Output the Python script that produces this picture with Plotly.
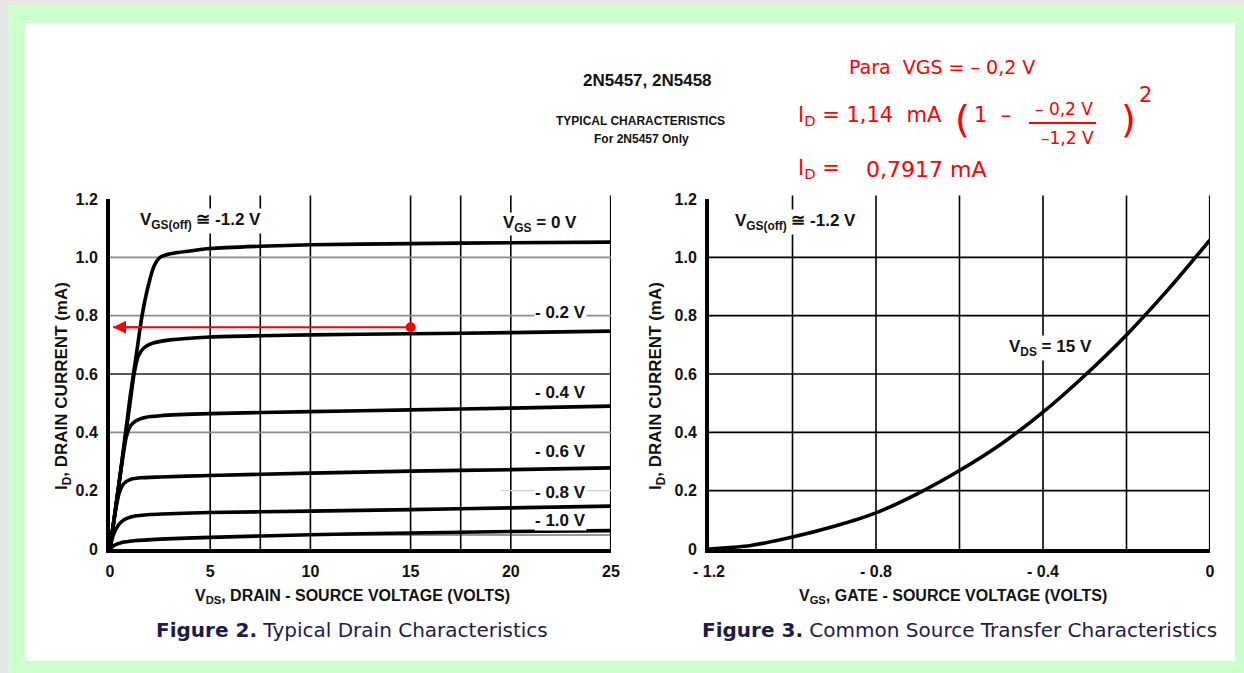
import plotly.graph_objects as go

W, H = 1244, 673

# ---------------- data ----------------
# Figure 2: drain characteristics  (V_DS in volts, I_D in mA)
vds_0 = [0, 0.5, 1.0, 1.3, 1.6, 1.9, 2.2, 2.5, 3.0, 4.0, 5.0, 7.5, 10, 15, 20, 25]
id_0 = [0, 0.25, 0.52, 0.66, 0.80, 0.90, 0.97, 1.00, 1.012, 1.022, 1.03, 1.038, 1.043, 1.047, 1.05, 1.052]

vds_02 = [0, 0.5, 1.0, 1.2, 1.4, 1.7, 2.2, 3.0, 5.0, 7.5, 10, 15, 20, 25]
id_02 = [0, 0.25, 0.50, 0.60, 0.66, 0.69, 0.707, 0.717, 0.727, 0.731, 0.734, 0.738, 0.742, 0.747]

vds_04 = [0, 0.4, 0.8, 1.0, 1.3, 1.8, 2.5, 5.0, 10, 15, 20, 25]
id_04 = [0, 0.20, 0.38, 0.42, 0.44, 0.452, 0.457, 0.464, 0.471, 0.477, 0.483, 0.49]

vds_06 = [0, 0.2, 0.45, 0.7, 1.0, 1.5, 2.5, 5.0, 10, 15, 20, 25]
id_06 = [0, 0.10, 0.19, 0.225, 0.238, 0.244, 0.247, 0.252, 0.26, 0.267, 0.272, 0.278]

vds_08 = [0, 0.15, 0.4, 0.7, 1.2, 2.0, 3.0, 5.0, 10, 15, 20, 25]
id_08 = [0, 0.045, 0.08, 0.10, 0.112, 0.118, 0.121, 0.125, 0.13, 0.135, 0.141, 0.147]

vds_10 = [0, 0.2, 0.6, 1.2, 2.5, 5.0, 10, 15, 20, 25]
id_10 = [0, 0.012, 0.022, 0.028, 0.034, 0.04, 0.049, 0.055, 0.06, 0.063]

curve_labels = ["V<sub>GS</sub> = 0 V", "- 0.2 V", "- 0.4 V", "- 0.6 V", "- 0.8 V", "- 1.0 V"]
label_x = [21.45, 22.5, 22.5, 22.5, 22.5, 22.5]
label_y = [1.114, 0.812, 0.538, 0.336, 0.195, 0.099]

# red annotation arrow (operating point read at V_DS = 15 V)
arrow_x = [15, 0.15]
arrow_y = [0.76, 0.76]

# Figure 3: transfer characteristic (V_GS in volts, I_D in mA)
vgs = [-1.2, -1.1, -1.0, -0.9, -0.8, -0.7, -0.6, -0.5, -0.4, -0.3, -0.2, -0.1, 0.0]
id_t = [0, 0.012, 0.041, 0.078, 0.124, 0.19, 0.269, 0.36, 0.469, 0.595, 0.734, 0.89, 1.06]

# axes ticks / grids
x1_ticks = [0, 5, 10, 15, 20, 25]
x1_grid = [5, 7.5, 10, 15, 17.5, 20]
y_ticks = [0, 0.2, 0.4, 0.6, 0.8, 1.0, 1.2]
y_ticklabels = ["0", "0.2", "0.4", "0.6", "0.8", "1.0", "1.2"]
y1_grid_gray = [0.4, 0.8, 1.0]
y1_grid_light = [0.2]
y1_grid_dark = [0.6]
y1_grid_thin = [0.048]
x2_ticks = [-1.2, -0.8, -0.4, 0]
x2_ticklabels = ["- 1.2", "- 0.8", "- 0.4", "0"]
x2_grid = [-1.0, -0.8, -0.6, -0.4, -0.2]
y2_grid = [0.2, 0.4, 0.6, 0.8, 1.0]

# ---------------- figure ----------------
NARROW = "Liberation Sans Narrow, Arial Narrow, Liberation Sans, Arial"
SANS = "Liberation Sans, Arial"
WIDE = "DejaVu Sans, Verdana, Liberation Sans"

def px(xp):
    return xp / W

def py(yp):
    return 1 - yp / H

fig = go.Figure()

curves = [(vds_0, id_0), (vds_02, id_02), (vds_04, id_04), (vds_06, id_06), (vds_08, id_08), (vds_10, id_10)]
for xs, ys in curves:
    fig.add_trace(go.Scatter(x=xs, y=ys, mode="lines", xaxis="x", yaxis="y",
                             line=dict(color="black", width=3.6, shape="spline", smoothing=0.6),
                             hoverinfo="skip", showlegend=False))

fig.add_trace(go.Scatter(x=arrow_x, y=arrow_y, mode="lines", xaxis="x", yaxis="y",
                         line=dict(color="#ff0000", width=2), showlegend=False, hoverinfo="skip"))
fig.add_trace(go.Scatter(x=arrow_x[:1], y=arrow_y[:1], mode="markers", xaxis="x", yaxis="y",
                         marker=dict(color="#ff0000", size=10), showlegend=False, hoverinfo="skip"))

fig.add_trace(go.Scatter(x=vgs, y=id_t, mode="lines", xaxis="x2", yaxis="y2",
                         line=dict(color="black", width=3.6, shape="spline", smoothing=0.8),
                         hoverinfo="skip", showlegend=False))

ydom = [py(549), py(199)]
axis_common = dict(showgrid=False, zeroline=False, showline=True, linecolor="black", linewidth=4,
                   ticks="outside", ticklen=5, tickcolor="rgba(0,0,0,0)", automargin=False,
                   tickfont=dict(family=SANS, size=16, color="#111", weight="bold"), fixedrange=True)

fig.update_layout(
    width=W, height=H,
    autosize=False,
    margin=dict(l=0, r=0, t=0, b=0, pad=0, autoexpand=False),
    paper_bgcolor="#ccffcc",
    plot_bgcolor="rgba(0,0,0,0)",
    showlegend=False,
    xaxis=dict(domain=[px(110), px(611)], range=[0, 25], tickvals=x1_ticks, anchor="y", **axis_common),
    yaxis=dict(domain=ydom, range=[0, 1.2], tickvals=y_ticks, ticktext=y_ticklabels, anchor="x", **axis_common),
    xaxis2=dict(domain=[px(709), px(1210)], range=[-1.2, 0], tickvals=x2_ticks, ticktext=x2_ticklabels,
                anchor="y2", **axis_common),
    yaxis2=dict(domain=ydom, range=[0, 1.2], tickvals=y_ticks, ticktext=y_ticklabels, anchor="x2", **axis_common),
)

shapes = []
# page background: gray edge, green frame, white sheet
shapes.append(dict(type="rect", xref="paper", yref="paper", x0=0, x1=1, y0=0, y1=1,
                   fillcolor="#e6e6e6", line=dict(width=0), layer="below"))
shapes.append(dict(type="rect", xref="paper", yref="paper", x0=px(8), x1=1, y0=0, y1=py(5),
                   fillcolor="#ccffcc", line=dict(width=0), layer="below"))
shapes.append(dict(type="rect", xref="paper", yref="paper", x0=px(25), x1=px(1235), y0=py(661), y1=py(23),
                   fillcolor="white", line=dict(width=0), layer="below"))

# left plot grid
for g in x1_grid:
    shapes.append(dict(type="line", xref="x", yref="y domain", x0=g, x1=g, y0=0, y1=1.01,
                       line=dict(color="black", width=1.6), layer="below"))
shapes.append(dict(type="line", xref="x", yref="y domain", x0=25, x1=25, y0=0, y1=1.01,
                   line=dict(color="black", width=2.2), layer="below"))
for g in y1_grid_gray:
    shapes.append(dict(type="line", xref="x domain", yref="y", x0=0, x1=1, y0=g, y1=g,
                       line=dict(color="#8c8c8c", width=1.6), layer="below"))
for g in y1_grid_dark:
    shapes.append(dict(type="line", xref="x domain", yref="y", x0=0, x1=1, y0=g, y1=g,
                       line=dict(color="#222", width=1.6), layer="below"))
for g in y1_grid_light:
    shapes.append(dict(type="line", xref="x", yref="y", x0=19.5, x1=25, y0=g, y1=g,
                       line=dict(color="#cfcfcf", width=1.2), layer="below"))
for g in y1_grid_thin:
    shapes.append(dict(type="line", xref="x", yref="y", x0=11, x1=25, y0=g, y1=g,
                       line=dict(color="#333", width=1), layer="below"))

# right plot grid
for g in x2_grid:
    shapes.append(dict(type="line", xref="x2", yref="y2 domain", x0=g, x1=g, y0=0, y1=1.01,
                       line=dict(color="black", width=1.6), layer="below"))
shapes.append(dict(type="line", xref="x2", yref="y2 domain", x0=0, x1=0, y0=0, y1=1.01,
                   line=dict(color="black", width=2.2), layer="below"))
for g in y2_grid:
    shapes.append(dict(type="line", xref="x2 domain", yref="y2", x0=0, x1=1, y0=g, y1=g,
                       line=dict(color="black", width=1.6), layer="below"))

# fraction bar of the handwritten formula
shapes.append(dict(type="line", xref="paper", yref="paper", x0=px(1029), x1=px(1096), y0=py(123), y1=py(123),
                   line=dict(color="#ff0000", width=2.2)))
fig.update_layout(shapes=shapes)

ann = []
lab_font = dict(family=NARROW, size=17, color="#111", weight="bold")

def A(text, x, y, font, xref="paper", yref="paper", xanchor="center", yanchor="middle", **kw):
    if xref == "paper":
        x = px(x)
    if yref == "paper":
        y = py(y)
    d = dict(text=text, x=x, y=y, xref=xref, yref=yref, xanchor=xanchor, yanchor=yanchor,
             showarrow=False, font=font)
    d.update(kw)
    ann.append(d)

for t, x, y in zip(curve_labels, label_x, label_y):
    A(t, x, y, lab_font, xref="x", yref="y", bgcolor="white", borderpad=0)
A("V<sub>GS(off)</sub> ≅ -1.2 V", 4.5, 1.124, lab_font, xref="x", yref="y", bgcolor="white")
A("V<sub>GS(off)</sub> ≅ -1.2 V", -0.994, 1.12, lab_font, xref="x2", yref="y2", bgcolor="white")
A("V<sub>DS</sub> = 15 V", -0.381, 0.69, lab_font, xref="x2", yref="y2", bgcolor="white")

# red arrow head
ann.append(dict(text="", x=arrow_x[1], y=arrow_y[1], ax=arrow_x[0] - 13.5, ay=arrow_y[0], xref="x", yref="y",
                axref="x", ayref="y", showarrow=True, arrowhead=2, arrowsize=1.3, arrowwidth=2,
                arrowcolor="#ff0000"))

# axis titles
title_font = dict(family=NARROW, size=16, color="#111", weight="bold")
A("V<sub>DS</sub>, DRAIN - SOURCE VOLTAGE (VOLTS)", 352, 596, title_font)
A("V<sub>GS</sub>, GATE - SOURCE VOLTAGE (VOLTS)", 953, 596, title_font)
A("I<sub>D</sub>, DRAIN CURRENT (mA)", 63, 386, dict(family=NARROW, size=17, color="#111", weight="bold"),
  textangle=-90)
A("I<sub>D</sub>, DRAIN CURRENT (mA)", 657, 386, dict(family=NARROW, size=17, color="#111", weight="bold"),
  textangle=-90)

# figure captions
cap_font = dict(family=WIDE, size=20, color="#1c1c48")
A("<b>Figure 2.</b> Typical Drain Characteristics", 352, 630, cap_font)
A("<b>Figure 3.</b> Common Source Transfer Characteristics", 960, 630, cap_font)

# header
A("<b>2N5457, 2N5458</b>", 647, 80, dict(family=SANS, size=17, color="#111"))
A("<b>TYPICAL CHARACTERISTICS</b>", 640, 121, dict(family=SANS, size=12, color="#111"))
A("<b>For 2N5457 Only</b>", 641, 139, dict(family=SANS, size=12, color="#111"))

# handwritten red notes
RF = "DejaVu Sans, Liberation Sans"
A("Para  VGS = – 0,2 V", 847, 67, dict(family=RF, size=19, color="#ff0000"), xanchor="left")
A("I<sub>D</sub> = 1,14  mA", 796, 116, dict(family=RF, size=21, color="#ff0000"), xanchor="left")
A("(", 962, 119, dict(family=RF, size=38, color="#ff0000"))
A("1  –", 992, 115, dict(family=RF, size=21, color="#ff0000"))
A("– 0,2 V", 1064, 109, dict(family=RF, size=17, color="#ff0000"))
A("–1,2 V", 1067, 138, dict(family=RF, size=17, color="#ff0000"))
A(")", 1128, 119, dict(family=RF, size=38, color="#ff0000"))
A("2", 1145, 95, dict(family=RF, size=21, color="#ff0000"))
A("I<sub>D</sub> =", 796, 169, dict(family=RF, size=21, color="#ff0000"), xanchor="left")
A("0,7917 mA", 864, 169, dict(family=RF, size=22, color="#ff0000"), xanchor="left")

fig.update_layout(annotations=ann)

fig.write_html("out.html")
